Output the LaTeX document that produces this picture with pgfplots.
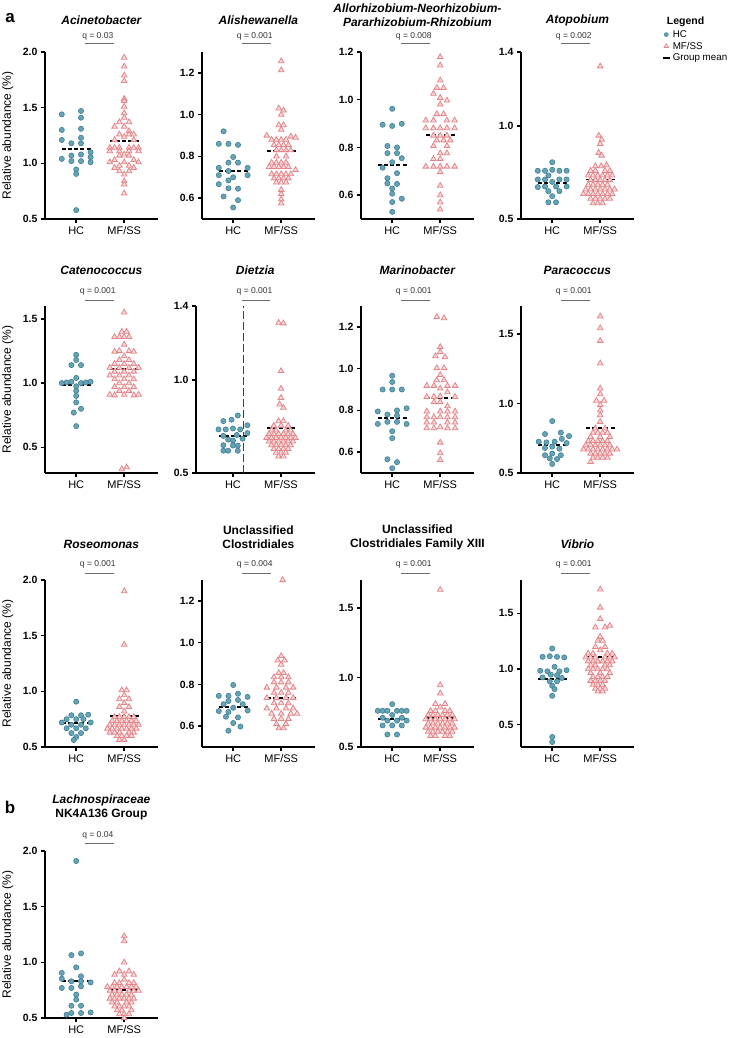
\documentclass[border=0pt]{standalone}
\usepackage{pgfplots}
\pgfplotsset{compat=1.18}
\usepackage{fontspec}
\setmainfont{Liberation Sans}
\definecolor{hcfill}{HTML}{66A3B6}
\definecolor{hcdraw}{HTML}{3F7F93}
\definecolor{mffill}{HTML}{F9DADB}
\definecolor{mfdraw}{HTML}{E3868B}
\definecolor{qgray}{HTML}{6E6E6E}
\definecolor{qtext}{HTML}{333333}
\newcommand{\titlefont}{\fontsize{12}{14}\selectfont\bfseries}
\newcommand{\qfont}{\fontsize{8.5}{10}\selectfont}
\pgfplotsset{
  panel/.style={
    scale only axis, width=112.8pt, height=167pt,
    xmin=-0.65, xmax=1.7,
    axis x line*=bottom, axis y line*=left,
    axis line style={line width=1.8pt, black},
    every tick/.style={black, line width=1.5pt},
    tick align=outside, major tick length=4pt,
    xtick={0,1}, xticklabels={HC,MF/SS},
    xticklabel style={font=\fontsize{11}{13}\selectfont},
    yticklabel style={font=\fontsize{10.5}{12}\selectfont\bfseries},
    /pgf/number format/assume math mode=true,
    clip=false, anchor=south west,
  },
  ylab/.style={ylabel={Relative abundance (\%)}, ylabel style={font=\fontsize{12}{14}\selectfont, at={(axis description cs:-0.33,0.5)}, anchor=center}},
  hc/.style={only marks, mark=*, mark size=2.6pt, mark options={fill=hcfill, draw=hcdraw, line width=0.6pt}, forget plot},
  mf/.style={only marks, mark=triangle*, mark size=3.2pt, mark options={fill=mffill, draw=mfdraw, line width=0.8pt}, forget plot},
  meanline/.style={black, line width=1.9pt, dash pattern=on 4pt off 2.2pt, forget plot},
}
\newcommand{\means}[2]{\addplot[meanline] coordinates {(-0.3,#1) (0.3,#1)};
  \addplot[meanline] coordinates {(0.7,#2) (1.3,#2)};}
\newcommand{\qann}[4]{\draw[qgray, line width=0.8pt] ([yshift=#3]axis cs:0.18,#1) -- ([yshift=#3]axis cs:0.78,#1);
  \node[font=\qfont, text=qtext] at ([yshift=#4]axis cs:0.45,#1) {#2};}
\newcommand{\ptitle}[2]{\node[font=\titlefont, align=center] at ([yshift=#1]rel axis cs:0.5,1) {#2};}
\begin{document}
\begin{tikzpicture}
\path[use as bounding box] (0,0) rectangle (737pt,-1038pt);
\node[font=\fontsize{17}{20}\selectfont\bfseries] at (10pt,-18.5pt) {a};
\node[font=\fontsize{17}{20}\selectfont\bfseries] at (10pt,-807pt) {b};

% ---------- Row 1 ----------
\begin{axis}[panel, ylab, at={(45pt,-219pt)}, ymin=0.5, ymax=2.0, ytick={0.5,1.0,1.5,2.0}, yticklabels={0.5,1.0,1.5,2.0}]
\addplot[hc] coordinates {(-0.3,1.44) (0.1,1.47) (0.1,1.41) (-0.3,1.30) (0.1,1.31) (0.1,1.23) (-0.3,1.21) (-0.1,1.18) (0.1,1.18) (0.3,1.10) (0.1,1.08) (-0.1,1.07) (0.3,1.055) (-0.3,1.04) (-0.1,1.02) (0.1,1.02) (0.3,1.01) (0,0.945) (0,0.905) (0,0.58)};
\addplot[mf] coordinates {(1,1.95) (1,1.87) (1,1.79) (1,1.74) (1,1.58) (1,1.56) (1,1.51) (1,1.45) (1,1.41) (0.9,1.37) (1.1,1.37) (0.8,1.33) (1,1.33) (1.1,1.29) (0.9,1.26) (1.1,1.26) (1.2,1.26) (1,1.24) (0.8,1.21) (1.2,1.21) (0.7,1.14) (0.8,1.14) (0.9,1.14) (1.1,1.14) (1.2,1.14) (1.3,1.14) (0.7,1.11) (0.9,1.11) (1.1,1.11) (1.3,1.11) (0.9,1.07) (1,1.08) (1.1,1.07) (0.8,1.03) (1.2,1.03) (0.7,1.01) (1,1.01) (1.3,1.01) (0.9,0.98) (1.1,0.98) (0.8,0.96) (1.2,0.96) (0.9,0.93) (1.1,0.93) (1,0.90) (1,0.84) (1,0.81) (1,0.73)};
\means{1.126}{1.198}
\qann{2.0}{q = 0.03}{9pt}{16pt}
\ptitle{32pt}{\itshape Acinetobacter}
\end{axis}

\begin{axis}[panel, at={(202pt,-219pt)}, ymin=0.5, ymax=1.3, ytick={0.6,0.8,1.0,1.2}, yticklabels={0.6,0.8,1.0,1.2}]
\addplot[hc] coordinates {(-0.2,0.92) (-0.3,0.86) (-0.1,0.86) (0.1,0.855) (0,0.797) (-0.1,0.77) (0.1,0.77) (-0.3,0.745) (0.3,0.745) (-0.1,0.73) (-0.3,0.71) (0.3,0.71) (0,0.70) (-0.3,0.667) (-0.1,0.685) (-0.1,0.647) (0.1,0.645) (-0.2,0.608) (0.1,0.59) (0,0.555)};
\addplot[mf] coordinates {(1,1.256) (1,1.213) (0.95,1.03) (1.05,1.02) (1,1.0) (0.95,0.95) (1.05,0.95) (1,0.928) (0.7,0.90) (1.2,0.895) (1.3,0.89) (0.8,0.88) (0.9,0.88) (1.0,0.88) (1.1,0.88) (0.85,0.855) (0.95,0.855) (1.05,0.855) (1.15,0.855) (0.9,0.83) (1.0,0.83) (1.1,0.83) (1.2,0.83) (0.9,0.80) (1.1,0.80) (0.8,0.77) (0.9,0.77) (1.0,0.77) (1.1,0.77) (0.75,0.75) (0.85,0.75) (0.95,0.75) (1.05,0.75) (1.15,0.75) (1.3,0.735) (0.8,0.715) (0.9,0.715) (1.0,0.715) (1.1,0.715) (1.2,0.715) (0.85,0.695) (0.95,0.695) (1.05,0.695) (1.15,0.695) (0.9,0.675) (1.0,0.675) (1.1,0.675) (1,0.64) (1,0.62) (1,0.595) (1,0.575)};
\means{0.731}{0.827}
\qann{1.3}{q = 0.001}{9pt}{16pt}
\ptitle{32pt}{\itshape Alishewanella}
\end{axis}

\begin{axis}[panel, at={(361pt,-219pt)}, ymin=0.5, ymax=1.2, ytick={0.6,0.8,1.0,1.2}, yticklabels={0.6,0.8,1.0,1.2}]
\addplot[hc] coordinates {(0,0.962) (-0.2,0.895) (0,0.89) (0.2,0.899) (-0.1,0.806) (0.1,0.80) (-0.1,0.776) (0.1,0.776) (0.2,0.755) (0,0.738) (-0.2,0.715) (0.1,0.692) (-0.1,0.671) (-0.1,0.649) (0.1,0.647) (0,0.628) (0,0.606) (0.2,0.585) (0,0.571) (0,0.53)};
\addplot[mf] coordinates {(1,1.179) (1,1.144) (1,1.081) (0.93,1.05) (1.07,1.05) (0.86,1.025) (1,1.008) (1.14,0.997) (1,0.98) (0.93,0.94) (1.07,0.94) (0.7,0.913) (0.86,0.913) (1.14,0.913) (1.3,0.913) (0.7,0.881) (0.86,0.881) (1,0.881) (1.14,0.881) (1.3,0.881) (0.86,0.85) (1,0.85) (1.14,0.85) (0.93,0.83) (1.07,0.83) (1.21,0.83) (0.86,0.806) (1.14,0.806) (1,0.776) (1.14,0.776) (0.86,0.752) (1,0.752) (0.7,0.72) (0.86,0.72) (1,0.72) (1.14,0.72) (1.3,0.72) (1,0.697) (1,0.64) (1,0.60) (1,0.57) (1,0.54)};
\means{0.727}{0.853}
\qann{1.2}{q = 0.008}{9pt}{16pt}
\ptitle{37pt}{\itshape Allorhizobium-Neorhizobium-\\\itshape Pararhizobium-Rhizobium}
\end{axis}

\begin{axis}[panel, at={(521pt,-219pt)}, ymin=0.5, ymax=1.4, ytick={0.5,1.0,1.4}, yticklabels={0.5,1.0,1.4},
  legend style={at={(1.245,1.14)}, anchor=north west, draw=none, fill=none, font=\fontsize{9.8}{12}\selectfont, row sep=0pt, inner sep=0pt, nodes={inner sep=1.6pt, anchor=west}}, legend cell align=left]
\addplot[hc] coordinates {(0,0.806) (-0.3,0.76) (-0.15,0.76) (0,0.765) (0.15,0.76) (0.3,0.76) (-0.08,0.735) (-0.3,0.713) (-0.15,0.713) (0.15,0.713) (0.3,0.713) (0,0.70) (-0.3,0.672) (-0.15,0.675) (0.08,0.675) (0.3,0.675) (-0.08,0.65) (0.15,0.65) (0,0.623) (-0.08,0.59) (0.08,0.59)};
\addplot[mf] coordinates {(1,1.323) (0.97,0.95) (1.03,0.928) (1,0.905) (0.97,0.857) (1.03,0.842) (1.13,0.79) (0.9,0.785) (1.02,0.785) (0.8,0.76) (0.9,0.76) (1.1,0.76) (1.2,0.76) (0.75,0.735) (0.85,0.735) (0.95,0.735) (1.05,0.735) (1.15,0.735) (1.25,0.735) (0.8,0.71) (0.9,0.71) (1.0,0.71) (1.1,0.71) (1.2,0.71) (0.75,0.685) (0.85,0.685) (0.95,0.685) (1.05,0.685) (1.15,0.685) (0.7,0.66) (0.8,0.66) (0.9,0.66) (1.0,0.66) (1.1,0.66) (1.2,0.66) (1.3,0.66) (0.65,0.635) (0.75,0.635) (0.85,0.635) (0.95,0.635) (1.05,0.635) (1.15,0.635) (1.25,0.635) (0.8,0.61) (0.9,0.61) (1.0,0.61) (1.1,0.61) (1.2,0.61) (0.85,0.585) (0.95,0.585) (1.05,0.585)};
\means{0.695}{0.713}
\qann{1.4}{q = 0.002}{9pt}{16pt}
\ptitle{32pt}{\itshape Atopobium}
\addlegendimage{only marks, mark=*, mark size=2pt, mark options={fill=hcfill, draw=hcdraw, line width=0.5pt}}
\addlegendentry{HC}
\addlegendimage{only marks, mark=triangle*, mark size=2.5pt, mark options={fill=mffill, draw=mfdraw, line width=0.7pt}}
\addlegendentry{MF/SS}
\addlegendimage{legend image code/.code={\draw[black, line width=2.4pt] (0.18cm,0cm) -- (0.43cm,0cm);}}
\addlegendentry{Group mean}
\node[font=\fontsize{10.5}{12}\selectfont\bfseries, anchor=west] at (rel axis cs:1.262,1.18) {Legend};
\end{axis}

% ---------- Row 2 ----------
\begin{axis}[panel, ylab, at={(45pt,-473pt)}, ymin=0.3, ymax=1.6, ytick={0.5,1.0,1.5}, yticklabels={0.5,1.0,1.5}]
\addplot[hc] coordinates {(0,1.22) (0,1.18) (-0.1,1.14) (0.1,1.14) (0,1.04) (-0.3,1.0) (-0.2,1.005) (-0.1,1.01) (0.1,1.0) (0.2,1.005) (0.3,1.01) (0,0.975) (0,0.94) (0,0.90) (0,0.85) (0.1,0.80) (-0.05,0.77) (0,0.665)};
\addplot[mf] coordinates {(1,1.55) (0.95,1.40) (1.05,1.40) (0.8,1.36) (0.9,1.36) (1.0,1.36) (1.1,1.36) (1,1.30) (0.8,1.245) (0.9,1.25) (1.1,1.25) (1.2,1.245) (1,1.21) (0.9,1.18) (1.1,1.18) (0.8,1.15) (1.0,1.15) (1.2,1.15) (0.7,1.12) (0.9,1.12) (1.1,1.12) (1.3,1.12) (0.8,1.09) (1.0,1.09) (1.2,1.09) (0.7,1.06) (0.9,1.06) (1.1,1.06) (0.8,1.03) (1.0,1.03) (1.2,1.03) (0.9,1.0) (1.1,1.0) (0.8,0.97) (1.0,0.97) (1.2,0.97) (0.9,0.94) (1.1,0.94) (0.7,0.91) (0.8,0.905) (1.0,0.91) (1.2,0.905) (1.3,0.91) (0.95,0.33) (1.05,0.345)};
\means{0.986}{1.11}
\qann{1.6}{q = 0.001}{6pt}{15pt}
\ptitle{36pt}{\itshape Catenococcus}
\end{axis}

\begin{axis}[panel, at={(196pt,-473pt)}, xmin=-0.77, width=118.6pt, ymin=0.5, ymax=1.4, ytick={0.5,1.0,1.4}, yticklabels={0.5,1.0,1.4}]
\draw[black!75, line width=0.9pt, dash pattern=on 8pt off 3pt] (axis cs:0.21,0.5) -- (axis cs:0.21,1.4);
\addplot[hc] coordinates {(0.1,0.81) (-0.03,0.787) (-0.2,0.78) (0.3,0.757) (-0.3,0.735) (-0.15,0.735) (0,0.74) (0.15,0.735) (0.3,0.715) (-0.2,0.70) (0.08,0.705) (0.2,0.685) (-0.1,0.68) (0,0.675) (-0.2,0.65) (0,0.648) (0.1,0.648) (-0.2,0.62) (-0.1,0.62) (0.1,0.62)};
\addplot[mf] coordinates {(0.95,1.31) (1.05,1.307) (1,1.05) (1,0.955) (1,0.905) (0.97,0.87) (1.05,0.852) (0.95,0.78) (1.05,0.78) (0.85,0.755) (1.0,0.755) (1.15,0.755) (0.8,0.73) (0.9,0.73) (1.1,0.73) (1.2,0.73) (0.75,0.71) (0.85,0.71) (0.95,0.71) (1.05,0.71) (1.15,0.71) (1.25,0.71) (0.7,0.69) (0.8,0.69) (0.9,0.69) (1.0,0.69) (1.1,0.69) (1.2,0.69) (1.3,0.69) (0.75,0.67) (0.85,0.67) (0.95,0.67) (1.05,0.67) (1.15,0.67) (1.25,0.67) (0.8,0.65) (0.9,0.65) (1.0,0.65) (1.1,0.65) (1.2,0.65) (0.85,0.63) (0.95,0.63) (1.05,0.63) (1.15,0.63) (0.9,0.61) (1.0,0.61) (1.1,0.61) (0.95,0.59) (1.05,0.59)};
\means{0.70}{0.741}
\qann{1.4}{q = 0.001}{6pt}{15pt}
\ptitle{36pt}{\itshape Dietzia}
\end{axis}

\begin{axis}[panel, at={(361pt,-473pt)}, ymin=0.5, ymax=1.3, ytick={0.6,0.8,1.0,1.2}, yticklabels={0.6,0.8,1.0,1.2}]
\addplot[hc] coordinates {(0,0.966) (0,0.936) (-0.2,0.90) (0,0.90) (0.2,0.90) (0.3,0.81) (0.1,0.80) (-0.3,0.795) (-0.1,0.78) (0.1,0.775) (-0.3,0.735) (-0.1,0.745) (0.1,0.745) (0.3,0.735) (0,0.70) (0,0.667) (-0.1,0.566) (0.1,0.552) (0,0.523)};
\addplot[mf] coordinates {(0.93,1.248) (1.08,1.242) (1,1.104) (1,1.08) (0.9,1.06) (1.1,1.055) (0.93,1.003) (1.08,1.003) (1,0.97) (0.93,0.945) (1.08,0.945) (0.72,0.918) (0.87,0.918) (1.15,0.918) (1.31,0.918) (1,0.905) (1.15,0.887) (0.72,0.865) (0.87,0.865) (1,0.867) (1.31,0.865) (0.87,0.84) (1,0.84) (1.15,0.82) (0.72,0.795) (1,0.795) (1.15,0.795) (1.31,0.795) (0.72,0.768) (0.87,0.768) (1,0.768) (1.15,0.768) (1.31,0.768) (0.72,0.742) (0.87,0.742) (1.15,0.742) (1.31,0.742) (0.72,0.715) (0.87,0.715) (1,0.72) (1.15,0.715) (1.31,0.715) (1,0.646) (1,0.595) (1,0.563)};
\means{0.763}{0.86}
\qann{1.3}{q = 0.001}{6pt}{15pt}
\ptitle{36pt}{\itshape Marinobacter}
\end{axis}

\begin{axis}[panel, at={(521pt,-473pt)}, ymin=0.5, ymax=1.7, ytick={0.5,1.0,1.5}, yticklabels={0.5,1.0,1.5}]
\addplot[hc] coordinates {(0,0.873) (-0.15,0.78) (0.18,0.79) (0.35,0.765) (-0.28,0.725) (-0.12,0.72) (0.05,0.725) (0.2,0.745) (0.3,0.715) (-0.15,0.68) (0,0.69) (0.15,0.675) (-0.15,0.628) (0,0.64) (0.18,0.628) (-0.05,0.605) (0.1,0.60) (0,0.565)};
\addplot[mf] coordinates {(1,1.625) (1,1.541) (1,1.45) (1,1.288) (1,1.108) (1,1.067) (0.92,1.02) (1.08,1.02) (1,0.99) (1,0.95) (1,0.916) (1,0.868) (0.9,0.82) (1.1,0.82) (0.85,0.79) (0.95,0.79) (1.05,0.79) (1.15,0.79) (0.8,0.76) (1,0.76) (1.2,0.76) (0.75,0.73) (0.85,0.73) (0.95,0.73) (1.05,0.73) (1.15,0.73) (0.7,0.70) (0.8,0.70) (0.9,0.70) (1,0.70) (1.1,0.70) (1.2,0.70) (0.65,0.67) (0.75,0.67) (0.85,0.67) (0.95,0.67) (1.05,0.67) (1.15,0.67) (1.25,0.67) (1.35,0.67) (0.8,0.64) (0.9,0.64) (1,0.64) (1.1,0.64) (1.2,0.64) (0.85,0.61) (0.95,0.61) (1.05,0.61) (1.15,0.61) (0.8,0.58)};
\means{0.70}{0.825}
\qann{1.7}{q = 0.001}{6pt}{15pt}
\ptitle{36pt}{\itshape Paracoccus}
\end{axis}

% ---------- Row 3 ----------
\begin{axis}[panel, ylab, at={(45pt,-747pt)}, ymin=0.5, ymax=2.0, ytick={0.5,1.0,1.5,2.0}, yticklabels={0.5,1.0,1.5,2.0}]
\addplot[hc] coordinates {(0,0.907) (-0.1,0.785) (0.1,0.785) (0.25,0.79) (-0.2,0.75) (0,0.75) (0.15,0.75) (-0.3,0.72) (0.3,0.72) (-0.1,0.70) (0.1,0.70) (-0.2,0.668) (0,0.668) (0.2,0.668) (-0.1,0.625) (0.1,0.625) (0,0.59) (-0.05,0.563)};
\addplot[mf] coordinates {(1,1.90) (1,1.42) (0.95,1.01) (1.05,1.01) (1,0.965) (0.9,0.93) (1.1,0.93) (1,0.895) (0.9,0.86) (1.1,0.86) (1,0.82) (0.8,0.77) (0.9,0.77) (1.0,0.77) (1.1,0.77) (1.2,0.77) (0.75,0.735) (0.85,0.735) (0.95,0.735) (1.05,0.735) (1.15,0.735) (1.25,0.735) (0.7,0.70) (0.8,0.70) (0.9,0.70) (1.0,0.70) (1.1,0.70) (1.2,0.70) (1.3,0.70) (0.65,0.665) (0.75,0.665) (0.85,0.665) (0.95,0.665) (1.05,0.665) (1.15,0.665) (1.25,0.665) (0.7,0.63) (0.8,0.63) (0.9,0.63) (1.1,0.63) (1.2,0.63) (0.85,0.60) (0.95,0.60) (1.05,0.60) (1.15,0.60) (0.9,0.565) (1.0,0.565)};
\means{0.713}{0.778}
\qann{2.0}{q = 0.001}{7pt}{16pt}
\ptitle{36pt}{\itshape Roseomonas}
\end{axis}

\begin{axis}[panel, at={(202pt,-747pt)}, ymin=0.5, ymax=1.3, ytick={0.6,0.8,1.0,1.2}, yticklabels={0.6,0.8,1.0,1.2}]
\addplot[hc] coordinates {(0,0.797) (-0.3,0.745) (-0.1,0.745) (0.1,0.755) (0.3,0.74) (-0.1,0.72) (0.1,0.725) (-0.2,0.705) (0.2,0.705) (0,0.688) (-0.3,0.672) (-0.1,0.668) (0.3,0.675) (-0.15,0.645) (0.1,0.642) (0,0.615) (0.15,0.598) (-0.1,0.578)};
\addplot[mf] coordinates {(1.03,1.30) (1,0.936) (0.93,0.915) (1.07,0.915) (1,0.895) (0.95,0.855) (1.05,0.855) (0.85,0.835) (1,0.835) (1.15,0.835) (0.85,0.81) (1,0.81) (1.15,0.81) (0.7,0.785) (0.9,0.785) (1.1,0.785) (1.25,0.785) (0.85,0.76) (1,0.76) (1.15,0.76) (0.7,0.735) (0.9,0.735) (1.1,0.735) (1.25,0.735) (0.85,0.71) (1,0.71) (1.15,0.71) (0.7,0.685) (0.9,0.685) (1.1,0.685) (1.25,0.685) (0.8,0.66) (1,0.66) (1.2,0.66) (1.33,0.66) (0.85,0.635) (1,0.635) (1.15,0.635) (0.9,0.61) (1.1,0.61) (0.95,0.59) (1.05,0.59)};
\means{0.693}{0.733}
\qann{1.3}{q = 0.004}{7pt}{16pt}
\ptitle{43pt}{Unclassified\\Clostridiales}
\end{axis}

\begin{axis}[panel, at={(361pt,-747pt)}, ymin=0.5, ymax=1.7, ytick={0.5,1.0,1.5}, yticklabels={0.5,1.0,1.5}]
\addplot[hc] coordinates {(0,0.808) (-0.3,0.76) (-0.2,0.76) (-0.1,0.76) (0.1,0.76) (0.2,0.76) (0.3,0.76) (0,0.73) (-0.2,0.71) (0.2,0.71) (-0.1,0.69) (0.1,0.69) (0.3,0.69) (-0.2,0.655) (0,0.655) (0.2,0.655) (-0.1,0.59) (0.1,0.59)};
\addplot[mf] coordinates {(1,1.63) (1,0.945) (1,0.885) (0.9,0.81) (1.1,0.81) (1,0.785) (0.8,0.76) (0.9,0.76) (1.1,0.76) (1.2,0.76) (0.75,0.73) (0.85,0.73) (0.95,0.73) (1.05,0.73) (1.15,0.73) (1.25,0.73) (0.7,0.70) (0.8,0.70) (0.9,0.70) (1.0,0.70) (1.1,0.70) (1.2,0.70) (1.3,0.70) (0.75,0.67) (0.85,0.67) (0.95,0.67) (1.05,0.67) (1.15,0.67) (1.25,0.67) (0.7,0.64) (0.8,0.64) (0.9,0.64) (1.0,0.64) (1.1,0.64) (1.2,0.64) (1.3,0.64) (0.75,0.61) (0.85,0.61) (0.95,0.61) (1.05,0.61) (1.15,0.61) (1.25,0.61) (0.8,0.58) (0.9,0.58) (1.1,0.58) (1.2,0.58)};
\means{0.70}{0.71}
\qann{1.7}{q = 0.001}{7pt}{16pt}
\ptitle{43pt}{Unclassified\\Clostridiales Family XIII}
\end{axis}

\begin{axis}[panel, at={(521pt,-747pt)}, ymin=0.3, ymax=1.8, ytick={0.5,1.0,1.5}, yticklabels={0.5,1.0,1.5}]
\addplot[hc] coordinates {(0,1.185) (-0.2,1.11) (-0.05,1.115) (0.1,1.11) (0.25,1.105) (0.05,1.02) (-0.25,0.985) (-0.1,0.98) (0.15,0.98) (0.3,0.99) (-0.03,0.95) (0.1,0.945) (-0.2,0.925) (0.2,0.92) (-0.05,0.89) (0.1,0.89) (0,0.85) (0.05,0.82) (0,0.76) (0,0.39) (0,0.345)};
\addplot[mf] coordinates {(1,1.716) (1,1.553) (1,1.45) (0.9,1.375) (1.1,1.375) (1.2,1.39) (1,1.29) (0.95,1.255) (1.05,1.255) (0.9,1.20) (1.1,1.20) (1,1.17) (0.75,1.14) (0.85,1.14) (1.15,1.14) (1.25,1.14) (0.7,1.105) (0.8,1.105) (0.9,1.105) (1.1,1.105) (1.2,1.105) (1.3,1.105) (0.75,1.07) (0.85,1.07) (0.95,1.07) (1.05,1.07) (1.15,1.07) (1.25,1.07) (0.8,1.035) (0.9,1.035) (1.1,1.035) (1.2,1.035) (0.75,1.0) (0.85,1.0) (0.95,1.0) (1.05,1.0) (1.15,1.0) (0.8,0.965) (1.0,0.965) (1.2,0.965) (0.85,0.93) (0.95,0.93) (1.05,0.93) (1.15,0.93) (0.8,0.895) (0.9,0.895) (1.0,0.895) (1.1,0.895) (0.85,0.86) (0.95,0.86) (1.05,0.86) (0.9,0.825) (1.0,0.825) (1.1,0.825) (0.95,0.80) (1.05,0.80)};
\means{0.914}{1.11}
\qann{1.8}{q = 0.001}{7pt}{16pt}
\ptitle{36pt}{\itshape Vibrio}
\end{axis}

% ---------- Row 4 ----------
\begin{axis}[panel, ylab, at={(45pt,-1018pt)}, ymin=0.5, ymax=2.0, ytick={0.5,1.0,1.5,2.0}, yticklabels={0.5,1.0,1.5,2.0}]
\addplot[hc] coordinates {(0,1.91) (-0.1,1.065) (0.1,1.08) (0,0.955) (-0.3,0.905) (0.1,0.875) (-0.3,0.853) (-0.1,0.83) (0.1,0.83) (0.3,0.82) (-0.3,0.77) (-0.1,0.77) (0.1,0.785) (0,0.71) (0,0.665) (-0.1,0.61) (0.1,0.61) (-0.1,0.545) (0.1,0.545) (0.3,0.55) (-0.2,0.53)};
\addplot[mf] coordinates {(1,1.235) (1,1.19) (1,1.0) (0.9,0.92) (1.1,0.92) (0.8,0.89) (1,0.89) (1.2,0.89) (1,0.845) (0.8,0.815) (0.9,0.815) (1.1,0.815) (1.2,0.815) (0.65,0.78) (0.75,0.78) (0.85,0.78) (0.95,0.78) (1.05,0.78) (1.15,0.78) (1.25,0.78) (0.7,0.745) (0.8,0.745) (0.9,0.745) (1.1,0.745) (1.2,0.745) (1.3,0.745) (0.75,0.71) (0.85,0.71) (0.95,0.71) (1.05,0.71) (1.15,0.71) (0.7,0.675) (0.8,0.675) (0.9,0.675) (1.0,0.675) (1.1,0.675) (1.2,0.675) (0.75,0.64) (0.85,0.64) (1.05,0.64) (1.15,0.64) (0.8,0.605) (0.9,0.605) (1.0,0.605) (1.1,0.605) (0.85,0.57) (0.95,0.57) (1.15,0.57) (0.9,0.535) (1.0,0.535) (1.1,0.535) (1,0.50)};
\means{0.834}{0.75}
\qann{2.0}{q = 0.04}{8pt}{16pt}
\ptitle{44pt}{\textit{Lachnospiraceae}\\NK4A136 Group}
\end{axis}
\end{tikzpicture}
\end{document}
